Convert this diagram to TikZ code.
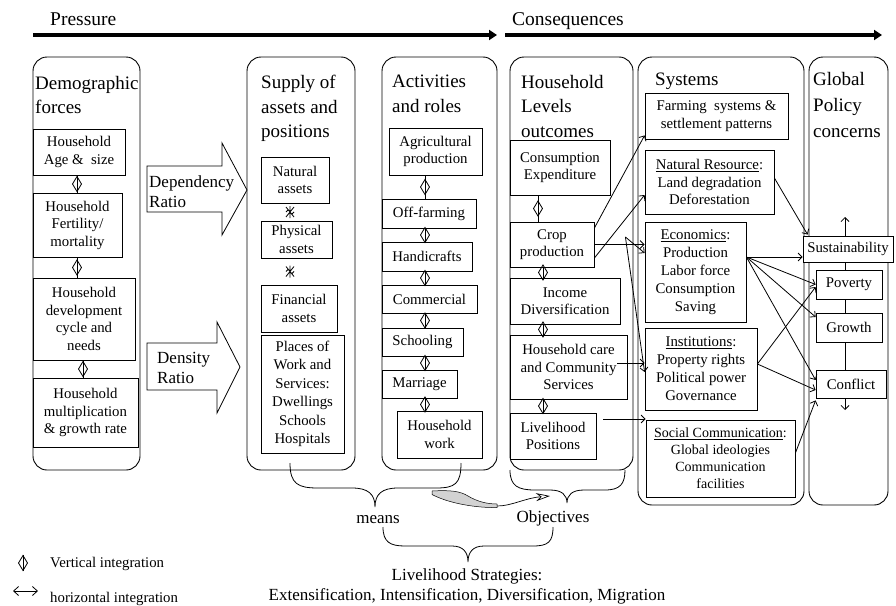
\documentclass[tikz,border=0pt]{standalone}
\usepackage{fontspec}
\setmainfont{Liberation Serif}
\usetikzlibrary{arrows.meta,calc}
\newcommand\vlk[3]{%
  \draw[lk] (#2.south -| #1) -- (#3.north -| #1);
  \draw[lk, shift={($(#2.south -| #1)!0.5!(#3.north -| #1)$)}] (0,-7.5) -- (4.5,0) -- (0,7.5) -- (-4.5,0) -- cycle;}
\newcommand\xlk[3]{%
  \draw[lk, shift={($(#2.south -| #1)!0.5!(#3.north -| #1)$)}] (0,-6) -- (0,6) (-4,-5) -- (4,5) (4,-5) -- (-4,5) (-4,0) -- (-2,-2) (4,0) -- (2,2);}
\begin{document}
\begin{tikzpicture}[x=1pt,y=-1pt,
  col/.style={draw, line width=0.9pt, rounded corners=14pt},
  bx/.style={draw, fill=white, line width=0.8pt, inner sep=0pt, align=center, font=\fontsize{14.8}{17.5}\selectfont},
  ttl/.style={anchor=north west, inner sep=0pt, align=left, font=\fontsize{19}{24.5}\selectfont},
  lbl/.style={inner sep=0pt, font=\fontsize{17}{20}\selectfont},
  lk/.style={line width=0.8pt},
  con/.style={line width=0.8pt, -{Straight Barb[length=4pt,width=8pt]}},
  bar/.style={line width=4pt, -{Triangle[length=8pt,width=10pt]}}]
\useasboundingbox (0,0) rectangle (896,605);

% header
\node[anchor=base west, inner sep=0pt, font=\fontsize{19.5}{22}\selectfont] (hp) at (50,25) {Pressure};
\node[anchor=base west, inner sep=0pt, font=\fontsize{19.5}{22}\selectfont] (hc) at (512,25) {Consequences};
\coordinate (b1s) at (33,35); \coordinate (b1e) at (497,35);
\coordinate (b2s) at (505,35); \coordinate (b2e) at (882,35);
\draw[bar] (b1s) -- (b1e);
\draw[bar] (b2s) -- (b2e);

% columns
\draw[col] (33,57) rectangle (140,470);
\draw[col] (247,57) rectangle (355,470);
\draw[col] (382,57) rectangle (497,470);
\draw[col] (510,57) rectangle (633,470);
\draw[col] (638,57) rectangle (804,505);
\draw[col] (809,57) rectangle (888,505);

% titles
\node[ttl] (t1) at (35,76) {Demographic\\forces};
\node[ttl] (t2) at (261,75) {Supply of\\assets and\\positions};
\node[ttl] (t3) at (392,75) {Activities\\and roles};
\node[ttl] (t4) at (521,75) {Household\\Levels\\outcomes};
\node[ttl] (t5) at (655,73) {Systems};
\node[ttl, font=\fontsize{19}{26}\selectfont] (t6) at (813,72) {Global\\Policy\\concerns};

% block arrows
\draw[line width=0.8pt, fill=white] (147,166) -- (222,166) -- (222,143) -- (247,190) -- (222,235) -- (222,212) -- (147,212) -- cycle;
\node[lbl, anchor=north west, align=left] (dep) at (149,175.5) {Dependency\\Ratio};
\draw[line width=0.8pt, fill=white] (147,343) -- (217,343) -- (217,322) -- (240,367) -- (217,413) -- (217,390) -- (147,390) -- cycle;
\node[lbl, anchor=north west, align=left] (den) at (157,352.5) {Density\\Ratio};

% column 1
\node[bx, minimum width=92pt, minimum height=46pt] (d1) at (79,152) {Household\\Age \&\ \ size};
\node[bx, minimum width=89pt, minimum height=64pt] (d2) at (77.5,225) {Household\\Fertility/\\mortality};
\node[bx, minimum width=102pt, minimum height=82pt] (d3) at (84,319) {Household\\development\\cycle and\\needs};
\node[bx, minimum width=105pt, minimum height=69pt] (d4) at (85.5,412.5) {Household\\multiplication\\\& growth rate};
\coordinate (xa) at (77,0); \coordinate (xb) at (83,0);
\vlk{xa}{d1}{d2}
\vlk{xa}{d2}{d3}
\vlk{xb}{d3}{d4}

% column 2
\node[bx, minimum width=68pt, minimum height=46pt] (n1) at (295,180) {Natural\\assets};
\node[bx, minimum width=71pt, minimum height=37pt] (n2) at (296.5,239.5) {Physical\\assets};
\node[bx, minimum width=76pt, minimum height=47pt] (n3) at (299,308.5) {Financial\\assets};
\node[bx, minimum width=83pt, minimum height=118pt, font=\fontsize{14.8}{18.5}\selectfont] (n4) at (302.5,394) {Places of\\Work and\\Services:\\Dwellings\\Schools\\Hospitals};
\coordinate (xc) at (290,0);
\xlk{xc}{n1}{n2}
\xlk{xc}{n2}{n3}

% column 3
\node[bx, minimum width=93pt, minimum height=47pt] (a1) at (435.5,151.5) {Agricultural\\production};
\node[bx, minimum width=94pt, minimum height=29pt] (a2) at (429,213.5) {Off-farming};
\node[bx, minimum width=90pt, minimum height=29pt] (a3) at (427,256.5) {Handicrafts};
\node[bx, minimum width=95pt, minimum height=28pt] (a4) at (429.5,299) {Commercial};
\node[bx, minimum width=81pt, minimum height=28pt] (a5) at (422.5,342) {Schooling};
\node[bx, minimum width=75pt, minimum height=28pt] (a6) at (419.5,384) {Marriage};
\node[bx, minimum width=85pt, minimum height=47pt] (a7) at (439.5,434.5) {Household\\work};
\coordinate (xd) at (425,0);
\vlk{xd}{a1}{a2}
\vlk{xd}{a2}{a3}
\vlk{xd}{a3}{a4}
\vlk{xd}{a4}{a5}
\vlk{xd}{a5}{a6}
\vlk{xd}{a6}{a7}

% column 4
\node[bx, minimum width=100pt, minimum height=55pt] (h1) at (560,167.5) {Consumption\\Expenditure};
\node[bx, minimum width=84pt, minimum height=45pt] (h2) at (552,244.5) {Crop\\production};
\node[bx, minimum width=110pt, minimum height=46pt] (h3) at (565,301) {Income\\Diversification};
\node[bx, minimum width=117pt, minimum height=64pt] (h4) at (568.5,367) {Household care\\and Community\\Services};
\node[bx, minimum width=86pt, minimum height=46pt] (h5) at (553,436) {Livelihood\\Positions};
\coordinate (xe) at (538,0); \coordinate (xf) at (543,0);
\vlk{xe}{h1}{h2}
\vlk{xf}{h2}{h3}
\vlk{xf}{h3}{h4}
\vlk{xf}{h4}{h5}

% column 6 vertical line (behind boxes)
\coordinate (xg) at (845,0);
\coordinate (vt) at (845,217); \coordinate (vb) at (845,410);

% column 5
\node[bx, minimum width=143pt, minimum height=46pt] (s1) at (716.5,116) {Farming\ \ systems \&\\settlement patterns};
\node[bx, minimum width=129pt, minimum height=64pt] (s2) at (709.5,182) {\underline{Natural Resource}:\\Land degradation\\Deforestation};
\node[bx, minimum width=101pt, minimum height=100pt, font=\fontsize{14.8}{18}\selectfont] (s3) at (695.5,272) {\underline{Economics}:\\Production\\Labor force\\Consumption\\Saving};
\node[bx, minimum width=112pt, minimum height=82pt, font=\fontsize{14.8}{18}\selectfont] (s4) at (701,369) {\underline{Institutions}:\\Property rights\\Political power\\Governance};
\node[bx, minimum width=149pt, minimum height=77pt, font=\fontsize{14}{17}\selectfont] (s5) at (720.5,458.5) {\underline{Social Communication}:\\Global ideologies\\Communication\\facilities};

% column 6 boxes
\draw[lk] (845,236) -- (845,398);
\node[bx, minimum width=90pt, minimum height=26pt] (p1) at (848,249) {Sustainability};
\node[bx, minimum width=66pt, minimum height=29pt] (p2) at (849,284.5) {Poverty};
\node[bx, minimum width=66pt, minimum height=29pt] (p3) at (849,327.5) {Growth};
\node[bx, minimum width=70pt, minimum height=28pt] (p4) at (851,384) {Conflict};
\draw[con] (p1.north -| xg) -- (vt);
\draw[con] (p4.south -| xg) -- (vb);

% connectors column 4 -> column 5
\draw[con] ([yshift=16.5pt]h2.east) -- ([yshift=4pt]s1.south west);
\draw[con] ([yshift=-13.5pt]h2.east) -- ([yshift=-13pt]s2.west);
\draw[con] (h2.east) -- (h2.east -| s3.west);
\coordinate (pk) at ([xshift=31pt,yshift=7.5pt]h2.east);
\draw[con] (pk) -- ([yshift=19pt]s3.west);
\draw[con] (pk) -- ([yshift=-3pt]s4.west);
\coordinate (hc4) at ([xshift=-10pt,yshift=4pt]h4.east);
\draw[con] (hc4) -- (hc4 -| s4.west);
\coordinate (hc5) at ([xshift=7pt,yshift=17pt]h5.east);
\draw[con] (hc5) -- (hc5 -| s5.west);

% connectors column 5 -> column 6
\draw[con] ([yshift=4pt]s2.east) -- ([xshift=5pt,yshift=1pt]p1.north west);
\coordinate (ep) at ([yshift=15pt]s3.east);
\draw[con] (ep) -- (ep -| p1.west);
\draw[con] (ep) -- (p2.west);
\draw[con] (ep) -- ([yshift=10.5pt]p3.west);
\draw[con] (ep) -- ([yshift=4pt]p4.west);
\coordinate (ip) at ([yshift=5pt]s4.east);
\draw[con] (ip) -- ([yshift=-2.5pt]p2.west);
\draw[con] (ip) -- ([yshift=-6pt]p4.west);
\draw[con] ([yshift=5.5pt]s5.east) -- ([yshift=-2pt]p4.south west);

% braces
\draw[lk] (290,463) .. controls (290,484) and (298,488) .. (318,488) -- (352,488) .. controls (368,488) and (375,494) .. (375,507)
  .. controls (375,494) and (382,488) .. (398,488) -- (436,488) .. controls (455,488) and (461,484) .. (461,463);
\draw[lk] (510,470) .. controls (510,486) and (518,490) .. (535,490) -- (550,490) .. controls (562,490) and (567,495) .. (567,503)
  .. controls (567,495) and (572,490) .. (584,490) -- (605,490) .. controls (620,490) and (625,484) .. (625,470);
\draw[lk] (383,527) .. controls (383,542) and (390,546) .. (405,546) -- (452,546) .. controls (463,546) and (468,552) .. (468,562)
  .. controls (468,552) and (473,546) .. (484,546) -- (533,546) .. controls (548,546) and (553,542) .. (553,527);

\node[lbl, anchor=base] (mn) at (378,523) {means};
\node[lbl, anchor=base] (ob) at (553,522) {Objectives};
\node[lbl, anchor=base] (ls1) at (467,580) {Livelihood Strategies:};
\node[lbl, anchor=base] (ls2) at (467,600) {Extensification, Intensification, Diversification, Migration};

% gray curved arrow
\coordinate (ga) at (432,491); \coordinate (gb) at (497,504); \coordinate (gc) at (550,496);
\filldraw[fill=gray!35, line width=0.5pt] (ga) .. controls (450,490) and (460,491) .. (468,496) .. controls (478,502) and (488,504) .. (gb) -- (497,507.5) .. controls (475,508) and (448,503) .. (432,494.5) -- cycle;
\draw[line width=0.7pt, -{Stealth[open,length=14pt,width=8pt]}] (497,506) .. controls (512,506) and (525,498) .. (gc);

% legend
\coordinate (lv1) at (23,555); \coordinate (lv2) at (23,571);
\draw[lk] (lv1) -- (lv2);
\draw[lk] (23,555.5) -- (27.5,563) -- (23,570.5) -- (18.5,563) -- cycle;
\node[anchor=base west, inner sep=0pt, font=\fontsize{14.8}{17}\selectfont] (lg1) at (50,567) {Vertical integration};
\coordinate (lh1) at (13,591); \coordinate (lh2) at (38,591);
\draw[line width=0.8pt, {Straight Barb[length=5pt,width=9pt]}-{Straight Barb[length=5pt,width=9pt]}] (lh1) -- (lh2);
\node[anchor=base west, inner sep=0pt, font=\fontsize{14.8}{17}\selectfont] (lg2) at (50,602) {horizontal integration};
\end{tikzpicture}
\end{document}
